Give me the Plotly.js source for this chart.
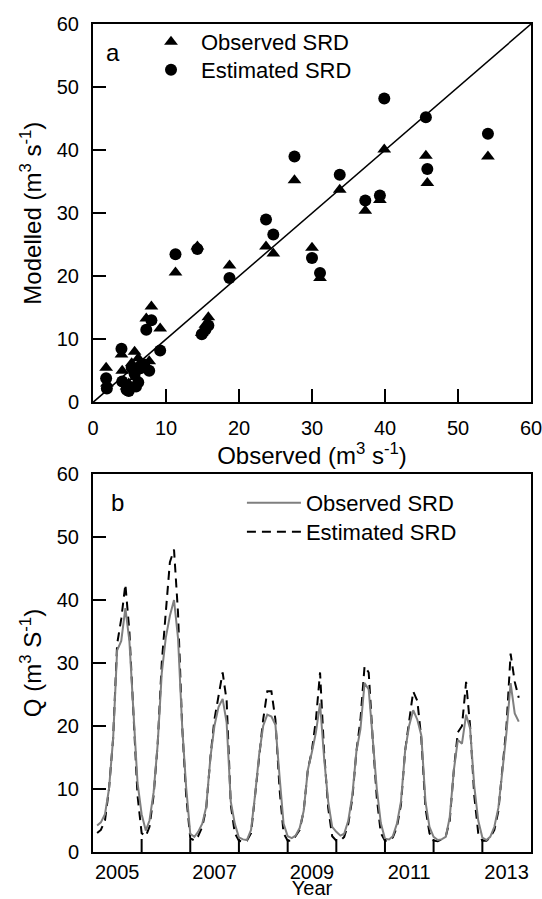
<!DOCTYPE html>
<html>
<head>
<meta charset="utf-8">
<script src="https://cdn.plot.ly/plotly-3.0.1.min.js"></script>
<style>html,body{margin:0;padding:0;background:#fff;}#chart{width:542px;height:899px;}</style>
</head>
<body>
<div id="chart"></div>
<script>
// ---------- Panel a: scatter (observed vs modelled) ----------
const observedQ = [1.8,1.9,3.9,4.0,4.6,4.9,5.3,5.7,5.9,6.2,6.5,7.0,7.3,7.7,8.0,9.2,11.3,14.3,14.9,15.4,15.8,18.7,23.7,24.7,27.6,30.0,31.1,33.8,37.3,39.3,39.9,45.6,45.8,54.1];
const modelledObsSRD = [5.5,3.0,7.6,5.0,2.5,3.0,6.2,8.0,4.0,7.0,6.3,5.5,13.3,6.5,15.2,11.7,20.6,24.7,11.0,12.3,13.5,21.7,24.7,23.6,35.2,24.5,19.7,33.7,30.4,32.1,40.1,39.1,34.8,39.0];
const modelledEstSRD = [3.8,2.2,8.5,3.3,2.0,1.8,5.5,4.5,2.5,3.2,5.4,6.0,11.5,5.0,13.0,8.2,23.5,24.3,10.8,11.5,12.2,19.7,29.0,26.6,39.0,22.9,20.5,36.1,32.0,32.8,48.2,45.2,37.0,42.6];
const oneToOne = [0, 60];

// ---------- Panel b: monthly time series ----------
const months = [
  '2005-02','2005-03','2005-04','2005-05','2005-06','2005-07','2005-08','2005-09','2005-10','2005-11','2005-12',
  '2006-01','2006-02','2006-03','2006-04','2006-05','2006-06','2006-07','2006-08','2006-09','2006-10','2006-11','2006-12',
  '2007-01','2007-02','2007-03','2007-04','2007-05','2007-06','2007-07','2007-08','2007-09','2007-10','2007-11','2007-12',
  '2008-01','2008-02','2008-03','2008-04','2008-05','2008-06','2008-07','2008-08','2008-09','2008-10','2008-11','2008-12',
  '2009-01','2009-02','2009-03','2009-04','2009-05','2009-06','2009-07','2009-08','2009-09','2009-10','2009-11','2009-12',
  '2010-01','2010-02','2010-03','2010-04','2010-05','2010-06','2010-07','2010-08','2010-09','2010-10','2010-11','2010-12',
  '2011-01','2011-02','2011-03','2011-04','2011-05','2011-06','2011-07','2011-08','2011-09','2011-10','2011-11','2011-12',
  '2012-01','2012-02','2012-03','2012-04','2012-05','2012-06','2012-07','2012-08','2012-09','2012-10','2012-11','2012-12',
  '2013-01','2013-02','2013-03','2013-04','2013-05','2013-06','2013-07','2013-08','2013-09','2013-10'
];
const observedSRD = [
  4.2,4.7,6.0,10.0,18.0,32.0,33.5,38.7,33.5,23.0,11.0,
  6.0,3.4,5.0,9.5,17.0,28.4,34.0,37.5,40.0,34.0,20.0,10.3,
  2.9,2.4,3.2,4.5,7.2,15.0,20.0,23.0,24.3,20.5,8.0,4.5,
  2.3,2.0,1.9,3.5,9.0,15.5,20.0,21.8,21.5,20.2,12.0,4.5,
  2.5,2.2,2.6,3.8,6.5,13.0,15.8,19.0,23.6,15.0,8.0,4.0,
  3.2,2.6,2.9,5.0,9.0,16.0,19.5,26.8,25.8,18.0,10.0,4.6,
  2.1,2.0,2.5,4.5,8.0,16.0,20.0,22.5,21.0,18.5,8.0,4.0,
  2.4,1.9,2.0,2.4,5.5,13.0,17.8,17.2,21.8,19.6,10.5,5.0,
  2.3,1.9,2.4,4.0,7.0,13.0,19.0,26.8,22.0,20.7
];
const estimatedSRD = [
  3.0,3.5,5.0,10.0,18.0,33.0,37.0,42.5,35.0,22.0,9.0,
  3.0,2.5,4.0,9.0,17.0,30.0,38.0,46.0,48.0,38.0,20.0,9.0,
  2.2,1.8,2.5,4.0,7.0,15.0,21.0,25.0,28.5,24.0,7.5,3.0,
  1.8,1.6,1.8,3.0,9.0,16.0,21.0,25.5,25.5,21.0,10.0,3.0,
  1.8,1.8,2.5,3.5,6.5,13.0,16.0,21.0,28.5,16.0,7.0,2.5,
  1.8,1.8,2.4,4.5,8.5,16.0,21.0,29.5,28.5,18.0,8.5,3.0,
  1.8,1.8,2.3,4.0,7.5,16.0,21.0,25.5,24.0,18.0,7.0,3.0,
  1.8,1.7,2.0,2.4,5.0,13.0,19.0,20.0,27.0,20.0,9.0,3.0,
  1.8,1.8,2.3,3.5,6.5,13.0,20.0,31.5,27.0,24.5
];
// year boundaries (tick marks) and year labels (centred in the labelled year)
const yearTicks = ['2006-01-01','2007-01-01','2008-01-01','2009-01-01','2010-01-01','2011-01-01','2012-01-01','2013-01-01'];
const yearLabelPos = ['2005-07-02','2007-07-02','2009-07-02','2011-07-02','2013-07-02'];
const yearLabels = ['2005','2007','2009','2011','2013'];
const timeRange = ['2005-01-01','2014-01-01'];

const FONT = 'Liberation Sans, Arial, Helvetica, sans-serif';

const traces = [
  {x: oneToOne, y: oneToOne, xaxis:'x', yaxis:'y', mode:'lines', line:{color:'black', width:1.5}, showlegend:false, hoverinfo:'skip'},
  {x: observedQ, y: modelledObsSRD, xaxis:'x', yaxis:'y', mode:'markers', name:'Observed SRD', legend:'legend',
   marker:{symbol:'triangle-up', size:12, color:'black', line:{width:0}}},
  {x: observedQ, y: modelledEstSRD, xaxis:'x', yaxis:'y', mode:'markers', name:'Estimated SRD', legend:'legend3',
   marker:{symbol:'circle', size:12, color:'black', line:{width:0}}},
  {x: months, y: estimatedSRD, xaxis:'x2', yaxis:'y2', mode:'lines', name:'Estimated SRD', legend:'legend4',
   line:{color:'black', width:2, dash:'9px,6px'}},
  {x: months, y: observedSRD, xaxis:'x2', yaxis:'y2', mode:'lines', name:'Observed SRD', legend:'legend2',
   line:{color:'#7f7f7f', width:2}}
];

const axisCommon = {
  showline:true, linecolor:'black', linewidth:2, mirror:true,
  showgrid:false, zeroline:false,
  ticks:'inside', ticklen:13, tickwidth:2, tickcolor:'black',
  ticklabeloverflow:'allow',
  tickfont:{family:FONT, size:20, color:'black'}
};

const legendCommon = {xanchor:'left', yanchor:'middle', bgcolor:'rgba(0,0,0,0)', borderwidth:0,
  font:{family:FONT, size:22, color:'black'}};

// inside tick marks at the year boundaries of the time axis (~13 px tall, paper units)
const yearTickShapes = yearTicks.map(d => ({
  type:'line', xref:'x2', yref:'paper', x0:d, x1:d, y0:0, y1:0.0157,
  line:{color:'black', width:2}, layer:'above'
}));

const layout = {
  width:542, height:899,
  margin:{l:93, r:11, t:24, b:47},
  paper_bgcolor:'white', plot_bgcolor:'white',
  font:{family:FONT, color:'black'},
  xaxis: Object.assign({}, axisCommon, {
    domain:[0,1], anchor:'y', range:[0,60], tickmode:'linear', dtick:10, tick0:0,
    ticklabelstandoff:7,
    title:{text:'Observed (m<sup>3</sup> s<sup>-1</sup>)', font:{family:FONT, size:24, color:'black'}, standoff:4}
  }),
  yaxis: Object.assign({}, axisCommon, {
    domain:[0.5431,1], anchor:'x', range:[0,60], tickmode:'linear', dtick:10, tick0:0,
    ticklabelstandoff:8,
    title:{text:'Modelled (m<sup>3</sup> s<sup>-1</sup>)', font:{family:FONT, size:24, color:'black'}, standoff:8}
  }),
  xaxis2: Object.assign({}, axisCommon, {
    domain:[0,1], anchor:'y2', type:'date', range:timeRange,
    tickmode:'array', tickvals:yearLabelPos, ticktext:yearLabels, ticks:'', ticklabelstandoff:1,
    title:{text:'Year', font:{family:FONT, size:20, color:'black'}, standoff:4}
  }),
  yaxis2: Object.assign({}, axisCommon, {
    domain:[0,0.4565], anchor:'x2', range:[0,60], tickmode:'linear', dtick:10, tick0:0,
    ticklabelstandoff:8,
    title:{text:'Q (m<sup>3</sup> S<sup>-1</sup>)', font:{family:FONT, size:24, color:'black'}, standoff:8}
  }),
  shapes: yearTickShapes,
  legend: Object.assign({}, legendCommon, {x:0.1096, y:0.9783, itemwidth:50}),
  legend3: Object.assign({}, legendCommon, {x:0.1096, y:0.9444, itemwidth:50}),
  legend2: Object.assign({}, legendCommon, {x:0.34, y:0.4215, itemwidth:54}),
  legend4: Object.assign({}, legendCommon, {x:0.34, y:0.3865, itemwidth:54}),
  annotations:[
    {text:'a', xref:'paper', yref:'paper', x:0.0457, y:0.965, xanchor:'center', yanchor:'middle', showarrow:false,
     font:{family:FONT, size:24, color:'black'}},
    {text:'b', xref:'paper', yref:'paper', x:0.055, y:0.4227, xanchor:'center', yanchor:'middle', showarrow:false,
     font:{family:FONT, size:24, color:'black'}}
  ]
};

Plotly.newPlot('chart', traces, layout, {displayModeBar:false, staticPlot:true});
</script>
</body>
</html>
